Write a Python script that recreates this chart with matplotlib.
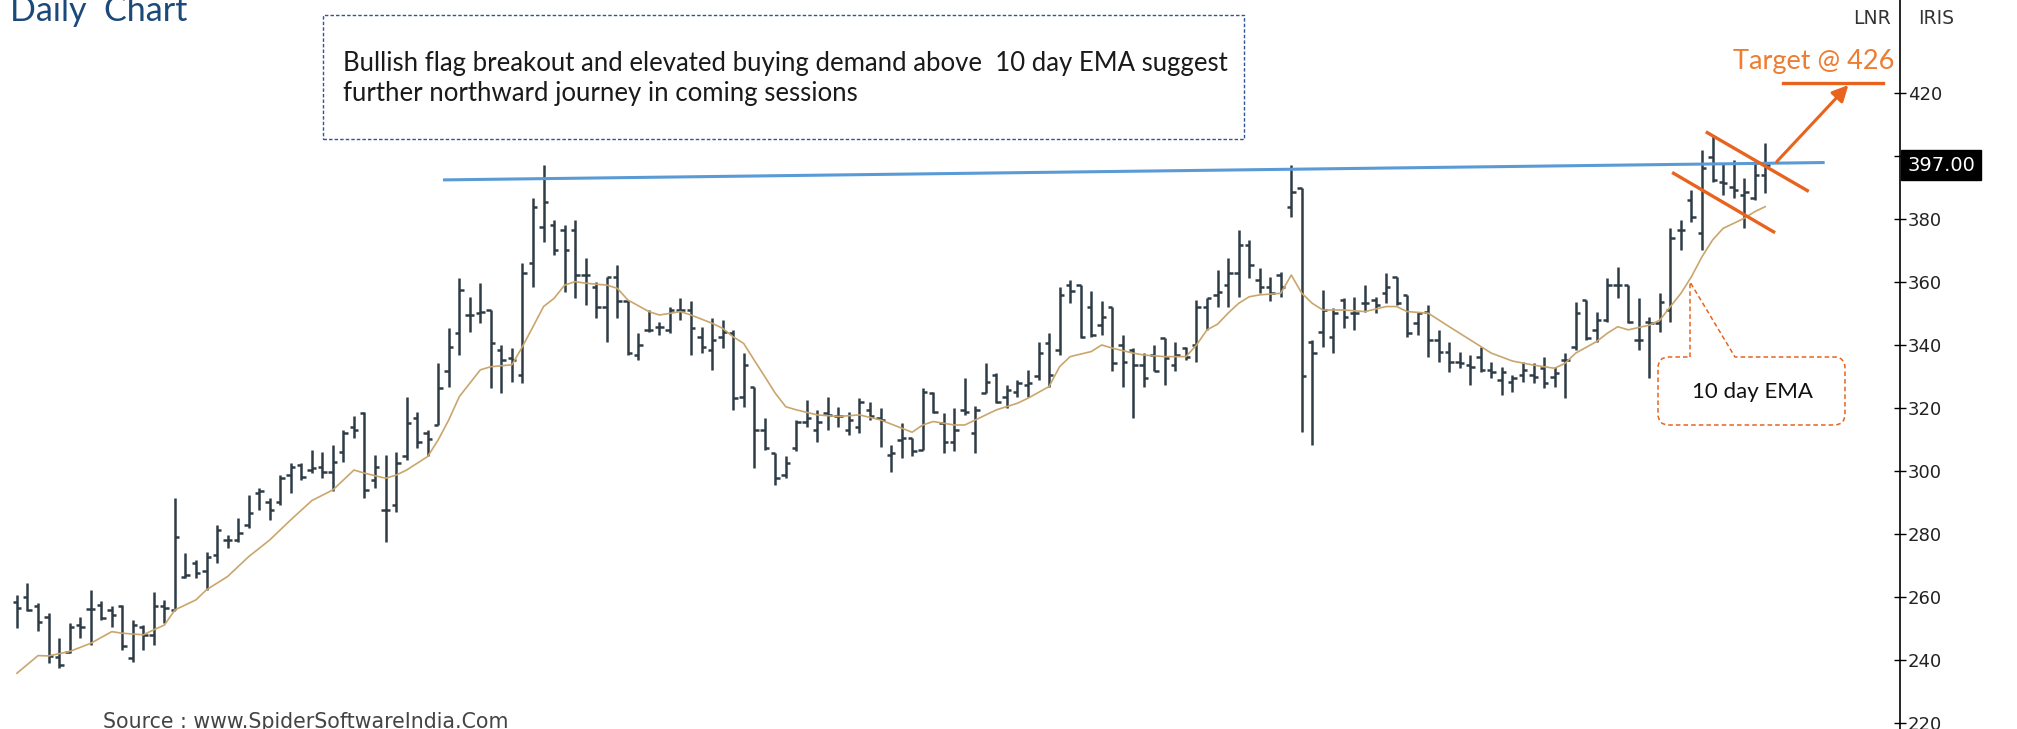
import numpy as np
import matplotlib.pyplot as plt
from matplotlib.collections import LineCollection
from matplotlib.patches import Rectangle, PathPatch
from matplotlib.path import Path
from matplotlib.transforms import Affine2D, blended_transform_factory

W, H = 2017, 729

# daily OHLC
opens = [258.4, 260.0, 256.9, 253.7, 241.0, 242.6, 251.0, 256.0, 257.4, 255.8,
         256.9, 240.5, 250.5, 247.9, 256.9, 255.8, 266.4, 270.6, 268.0, 273.3,
         278.0, 278.0, 282.8, 292.8, 290.2, 290.2, 298.6, 301.8, 300.2, 301.3,
         299.7, 306.0, 314.0, 318.2, 297.0, 287.5, 289.1, 304.5, 316.6, 312.0,
         314.5, 331.5, 343.6, 349.4, 350.0, 351.0, 338.3, 335.7, 330.4, 365.8,
         377.5, 378.0, 376.4, 376.4, 362.1, 358.4, 352.1, 361.6, 353.7, 336.7,
         344.6, 345.7, 344.6, 351.0, 351.0, 342.5, 338.3, 342.5, 343.6, 323.5,
         326.7, 312.9, 305.5, 298.6, 307.1, 315.6, 312.9, 318.2, 317.2, 312.9,
         314.0, 319.3, 316.6, 305.0, 309.8, 310.3, 306.6, 324.6, 315.1, 309.2,
         319.3, 311.9, 324.6, 330.4, 323.5, 325.1, 327.2, 329.9, 340.4, 338.3,
         359.0, 359.0, 352.1, 346.3, 352.1, 339.9, 338.3, 333.6, 336.7, 342.0,
         333.6, 338.9, 339.9, 352.1, 355.8, 358.9, 362.6, 371.6, 360.6, 358.4,
         362.1, 383.8, 389.6, 340.9, 344.1, 342.5, 354.2, 349.9, 353.1, 354.2,
         356.3, 361.6, 355.8, 346.8, 350.5, 341.5, 337.8, 334.6, 333.6, 336.2,
         332.0, 328.8, 328.3, 330.4, 330.4, 332.5, 329.8, 335.1, 339.4, 354.2,
         344.6, 347.8, 358.9, 358.9, 341.5, 347.3, 346.8, 351.0, 376.4, 385.9,
         375.3, 399.7, 391.7, 390.1, 387.5, 386.4, 393.8]
highs = [260.6, 264.3, 258.1, 254.7, 246.8, 251.6, 253.7, 262.2, 258.5, 256.9,
         257.4, 252.6, 251.0, 261.6, 259.0, 291.2, 273.8, 271.7, 274.3, 282.8,
         279.6, 284.9, 292.3, 294.4, 291.2, 298.6, 302.4, 302.4, 306.6, 306.0,
         308.2, 312.9, 317.2, 318.7, 305.0, 305.0, 306.0, 323.5, 318.7, 312.9,
         334.1, 345.2, 361.1, 355.2, 359.5, 351.0, 339.9, 338.8, 365.8, 386.4,
         397.0, 379.6, 378.0, 379.6, 367.4, 360.0, 361.6, 365.3, 353.7, 343.6,
         351.0, 347.3, 352.1, 354.7, 353.7, 345.7, 348.4, 347.8, 344.6, 337.3,
         326.7, 316.6, 305.5, 304.5, 316.1, 322.4, 319.3, 323.5, 320.3, 318.7,
         323.0, 321.9, 319.8, 308.2, 315.0, 310.3, 326.2, 325.1, 318.2, 319.8,
         329.4, 320.4, 334.1, 330.9, 327.2, 328.8, 332.0, 341.0, 343.6, 358.4,
         360.6, 359.0, 356.9, 353.7, 352.1, 343.1, 338.9, 337.3, 339.9, 342.0,
         341.0, 339.4, 354.2, 354.7, 363.7, 367.4, 376.4, 373.2, 364.2, 361.6,
         363.2, 397.0, 389.6, 341.5, 357.4, 351.5, 354.7, 355.2, 358.9, 355.2,
         362.6, 361.6, 355.8, 350.5, 352.6, 344.6, 340.9, 337.8, 336.7, 339.4,
         334.6, 333.0, 330.4, 334.6, 334.1, 336.2, 333.0, 337.3, 353.6, 354.2,
         350.5, 361.1, 364.8, 358.9, 354.7, 348.9, 356.3, 376.9, 379.6, 389.1,
         401.8, 406.5, 397.6, 398.6, 392.8, 397.6, 403.9]
lows = [250.0, 255.3, 249.0, 238.9, 237.3, 242.1, 246.8, 244.7, 252.6, 250.5,
        243.1, 239.4, 243.1, 244.7, 251.6, 255.8, 265.9, 265.9, 262.2, 270.6,
        275.4, 277.5, 281.7, 287.5, 284.4, 289.1, 292.8, 297.1, 299.2, 297.6,
        293.4, 302.9, 310.3, 291.2, 294.4, 277.5, 287.0, 303.4, 307.1, 304.5,
        314.5, 326.7, 336.7, 344.1, 346.8, 326.2, 324.6, 328.3, 327.7, 358.4,
        372.7, 368.5, 356.8, 354.7, 352.6, 348.4, 341.0, 348.4, 336.7, 335.1,
        344.1, 343.1, 343.6, 347.8, 336.7, 337.3, 332.0, 338.8, 319.3, 320.3,
        300.8, 306.6, 295.5, 297.6, 306.1, 314.0, 309.2, 312.9, 314.0, 311.3,
        311.9, 316.1, 307.6, 299.7, 303.9, 304.5, 306.6, 318.2, 305.5, 306.1,
        317.7, 305.5, 324.6, 321.4, 319.8, 323.5, 323.5, 328.8, 326.7, 336.7,
        353.1, 342.0, 342.5, 343.1, 331.5, 326.7, 316.6, 326.7, 331.5, 327.2,
        331.5, 335.2, 334.6, 344.7, 352.1, 352.1, 355.2, 361.1, 356.3, 353.7,
        355.2, 380.6, 312.4, 308.2, 339.4, 337.3, 345.2, 344.7, 350.5, 349.9,
        353.1, 352.6, 342.5, 343.1, 336.2, 334.6, 331.4, 332.5, 327.2, 331.4,
        329.3, 324.0, 325.1, 328.3, 327.7, 326.2, 326.7, 323.0, 338.3, 341.5,
        340.9, 347.3, 354.7, 346.8, 338.3, 329.3, 344.1, 347.3, 370.1, 379.0,
        370.1, 391.7, 387.5, 386.4, 376.9, 385.9, 388.0]
closes = [256.3, 255.8, 252.1, 241.2, 238.4, 250.5, 250.5, 256.0, 253.2, 254.2,
          244.2, 251.0, 247.9, 256.9, 256.3, 279.1, 266.9, 267.4, 272.7, 281.2,
          278.0, 280.1, 286.5, 293.4, 287.5, 297.6, 301.3, 298.1, 300.8, 299.7,
          302.9, 311.9, 313.0, 293.9, 301.3, 287.5, 302.4, 315.0, 309.2, 310.0,
          326.2, 339.4, 357.4, 349.4, 350.5, 340.4, 335.1, 335.1, 362.6, 383.8,
          385.4, 370.0, 370.0, 362.1, 362.1, 352.1, 361.6, 353.7, 337.3, 339.9,
          344.6, 345.7, 351.0, 351.0, 345.2, 339.4, 341.5, 344.1, 323.0, 333.6,
          312.9, 307.1, 297.6, 302.4, 315.6, 316.6, 315.6, 317.7, 317.2, 316.1,
          321.9, 317.2, 316.1, 305.5, 310.3, 306.1, 325.1, 318.7, 309.2, 313.0,
          318.7, 319.3, 328.3, 321.9, 325.6, 327.7, 327.7, 337.3, 330.4, 355.8,
          356.9, 342.5, 343.1, 348.9, 334.1, 334.6, 333.6, 329.4, 331.5, 335.7,
          336.7, 336.2, 352.1, 354.7, 356.8, 362.6, 371.6, 365.3, 358.4, 356.3,
          358.4, 388.6, 329.9, 337.3, 351.0, 350.0, 348.9, 349.9, 353.1, 352.6,
          358.4, 353.1, 343.6, 350.0, 341.5, 337.8, 334.6, 334.1, 333.0, 332.0,
          331.4, 331.4, 329.3, 332.0, 329.8, 327.7, 330.9, 335.1, 349.9, 342.0,
          347.8, 358.9, 358.9, 347.3, 341.5, 346.8, 353.6, 373.7, 376.4, 380.6,
          396.0, 392.3, 391.2, 389.1, 388.6, 393.8, 397.0]
days = np.arange(1, len(closes) + 1)

# 10 day EMA as drawn on the chart
ema_days = [1, 3, 4, 6, 8, 10, 11, 13, 14, 15, 16, 18, 19, 21, 23, 25, 27, 29, 31, 33,
            34, 36, 37, 38, 40, 41, 42, 43, 45, 46, 48, 49, 50, 51, 52, 53, 54, 55, 57, 58,
            59, 61, 62, 64, 65, 67, 68, 69, 70, 71, 72, 73, 74, 75, 77, 79, 81, 83, 85, 86,
            87, 88, 90, 91, 92, 94, 96, 97, 99, 100, 101, 103, 104, 105, 107, 108, 110, 112, 113, 114,
            115, 116, 117, 118, 119, 121, 122, 123, 124, 125, 127, 129, 131, 132, 133, 135, 137, 139, 141, 143,
            145, 147, 148, 149, 151, 152, 153, 154, 156, 157, 158, 159, 160, 161, 162, 163, 165, 166, 167]
ema_vals = [235.7, 241.3, 241.2, 242.6, 245.2, 248.9, 248.4, 247.9, 249.5, 251.0,
            255.8, 259.0, 262.2, 266.4, 272.7, 278.0, 284.4, 290.5, 293.9, 300.2,
            299.2, 297.6, 298.6, 300.2, 304.5, 309.8, 316.1, 323.5, 332.0, 333.0,
            333.6, 339.4, 345.7, 352.1, 354.7, 358.9, 360.0, 359.5, 358.9, 357.9,
            354.2, 350.5, 349.4, 350.5, 349.4, 346.8, 345.2, 342.5, 340.4, 335.1,
            329.9, 324.6, 320.3, 319.3, 317.7, 317.2, 317.7, 316.1, 313.5, 312.2,
            314.5, 315.6, 314.5, 314.5, 316.1, 319.3, 321.4, 323.0, 326.7, 333.0,
            336.2, 337.8, 339.9, 338.9, 337.3, 336.7, 336.2, 336.2, 339.9, 344.7,
            346.5, 350.0, 353.1, 355.2, 355.8, 356.3, 362.1, 356.3, 353.1, 351.0,
            351.0, 350.5, 352.1, 352.1, 350.5, 350.0, 345.7, 341.5, 337.3, 334.8,
            333.5, 332.5, 334.1, 337.3, 341.0, 343.6, 345.7, 344.7, 346.2, 347.8,
            352.1, 356.3, 361.6, 367.9, 373.2, 376.9, 380.1, 382.2, 383.8]

y_ticks = [220, 240, 260, 280, 300, 320, 340, 360, 380, 400, 420]
last_price = 397.00
target = 426

bar_col = '#2e3c46'
ema_col = '#c9a66b'
orange = '#e8641e'
txt_orange = '#ed7d31'
txt_font = ['Lato', 'DejaVu Sans']

fig = plt.figure(figsize=(W / 100, H / 100), dpi=100)
ax = fig.add_axes([0, 0, 1900 / W, 1])
ax.set_xlim(-0.61, 179.8)
ax.set_ylim(218.0, 449.4)

# OHLC bars
tk = 0.42
segs = []
for d, o, h, l, c in zip(days, opens, highs, lows, closes):
    segs.append([(d, l), (d, h)])
    segs.append([(d - tk, o), (d, o)])
    segs.append([(d, c), (d + tk, c)])
ax.add_collection(LineCollection(segs, colors=bar_col, linewidths=1.8, capstyle='butt'))

ax.plot(ema_days, ema_vals, color=ema_col, lw=1.2)

# trend lines
ax.plot([41.6, 172.5], [392.3, 397.8], color='#5b9bd5', lw=2.2)
ax.plot([161.5, 171.0], [407.3, 388.9], color=orange, lw=2.4)
ax.plot([158.3, 167.8], [394.4, 375.8], color=orange, lw=2.4)
ax.plot([168.7, 178.2], [422.9, 422.9], color=orange, lw=2.4)
ax.annotate('', xy=(174.9, 422.4), xytext=(168.1, 398.1),
            arrowprops=dict(arrowstyle='-|>', color=orange, lw=2.2, mutation_scale=24,
                            shrinkA=0, shrinkB=0))

# axes styling
for s in ['left', 'top', 'bottom']:
    ax.spines[s].set_visible(False)
ax.spines['right'].set_color('black')
ax.spines['right'].set_linewidth(1.2)
ax.set_xticks([])
ax.yaxis.tick_right()
ax.set_yticks(y_ticks)
ax.tick_params(axis='y', direction='inout', length=9, width=1, colors='black',
               labelcolor='#222222', labelsize=13, pad=1)

tr = blended_transform_factory(fig.transFigure, ax.transData)
ax.text(1907 / W, last_price, f'{last_price:.2f}', transform=tr, color='white',
        fontsize=14, va='center', ha='left', zorder=10,
        bbox=dict(boxstyle='square,pad=0.3', fc='black', ec='black'))


def fp(x, y):
    return x / W, 1 - y / H


fig.text(*fp(10, 21), 'Daily  Chart', va='baseline', fontsize=24.5, color='#1b4a7a',
         family=txt_font)

box = Rectangle(fp(323, 139), (1244 - 323) / W, (139 - 15) / H, transform=fig.transFigure,
                fill=False, ec='#2f5597', lw=1, ls=(0, (2.5, 1.5)))
fig.add_artist(box)
fig.text(*fp(343, 63), 'Bullish flag breakout and elevated buying demand above  10 day EMA suggest',
         va='center', fontsize=18.5, color='#1a1a1a', family=txt_font)
fig.text(*fp(343, 94), 'further northward journey in coming sessions',
         va='center', fontsize=18.5, color='#1a1a1a', family=txt_font)

fig.text(*fp(1872, 19), 'LNR', ha='center', va='center', fontsize=13.5, color='#333333')
fig.text(*fp(1936, 19), 'IRIS', ha='center', va='center', fontsize=13.5, color='#333333')
fig.text(*fp(1814, 61), f'Target @ {target}', ha='center', va='center', fontsize=19.5,
         color=txt_orange, family=txt_font)

# callout for the EMA
px = Affine2D().scale(1 / W, -1 / H).translate(0, 1) + fig.transFigure
L, R, T, B, r = 1658, 1845, 357, 425, 11
verts = [(1690, T), (1690, 282), (1735, T), (R - r, T), (R, T), (R, T + r),
         (R, B - r), (R, B), (R - r, B), (L + r, B), (L, B), (L, B - r),
         (L, T + r), (L, T), (L + r, T), (1690, T)]
codes = [Path.MOVETO, Path.LINETO, Path.LINETO, Path.LINETO, Path.CURVE3, Path.CURVE3,
         Path.LINETO, Path.CURVE3, Path.CURVE3, Path.LINETO, Path.CURVE3, Path.CURVE3,
         Path.LINETO, Path.CURVE3, Path.CURVE3, Path.LINETO]
fig.add_artist(PathPatch(Path(verts, codes), transform=px, fc='white', ec=orange,
                         lw=1.1, ls=(0, (3, 2))))
fig.text(*fp(1752, 392), '10 day EMA', ha='center', va='center', fontsize=16,
         color='#111111', family=txt_font)

fig.text(*fp(103, 722), 'Source : www.SpiderSoftwareIndia.Com', va='center',
         fontsize=14.8, color='#444444')

fig.savefig('out.png', dpi=100, facecolor='white')
